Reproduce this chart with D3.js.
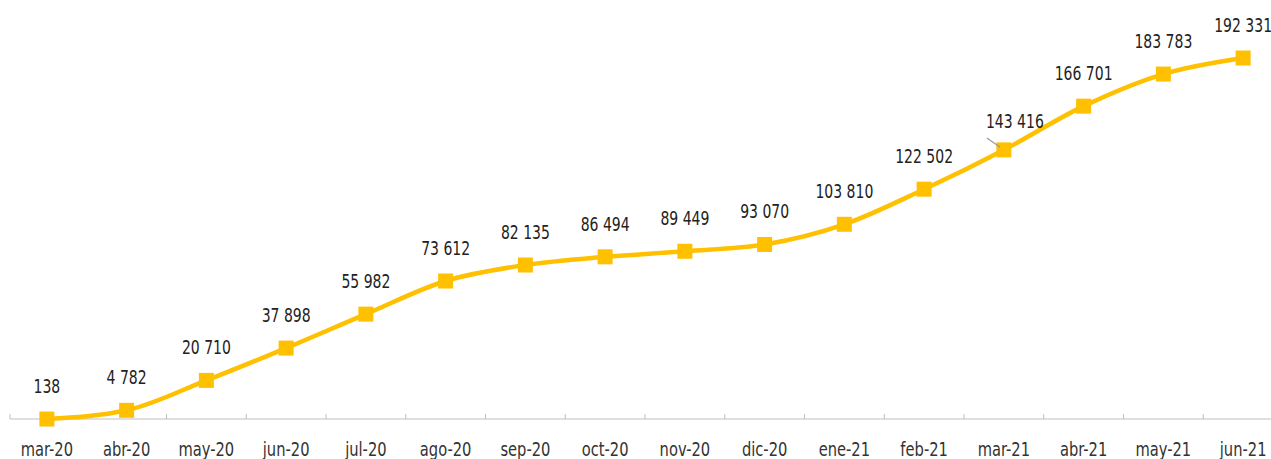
<!DOCTYPE html>
<html>
<head>
<meta charset="utf-8">
<script src="https://cdn.jsdelivr.net/npm/d3@7"></script>
<style>
  body { margin: 0; background: #fff; }
  svg text { font-family: "DejaVu Sans Condensed", "DejaVu Sans", sans-serif; font-stretch: condensed; }
</style>
</head>
<body>
<svg id="chart"></svg>
<script>
var months = ['mar-20','abr-20','may-20','jun-20','jul-20','ago-20','sep-20','oct-20','nov-20','dic-20','ene-21','feb-21','mar-21','abr-21','may-21','jun-21']
var values = [138, 4782, 20710, 37898, 55982, 73612, 82135, 86494, 89449, 93070, 103810, 122502, 143416, 166701, 183783, 192331]

var width = 1271, height = 459
var margin = {top: 58, left: 7}
var plotRight = 1283
var squeeze = 0.82 // narrow the font horizontally, the source uses a condensed face

var svg = d3.select('#chart')
  .attr('width', width)
  .attr('height', height)

var x = d3.scaleBand()
  .domain(months)
  .range([margin.left, plotRight])

var y = d3.scaleLinear()
  .domain([0, d3.max(values)])
  .range([419.3, margin.top])

var data = months.map((m, i) => ({month: m, value: values[i]}))
var cx = d => x(d.month) + x.bandwidth() / 2

// axis line + ticks between categories
var axisY = 419
svg.append('line')
  .attr('x1', 10).attr('x2', width)
  .attr('y1', axisY).attr('y2', axisY)
  .attr('stroke', '#bfbfbf').attr('stroke-width', 1)

svg.selectAll('.tick')
  .data(months.slice(1))
  .enter()
  .append('line')
    .attr('x1', d => x(d)).attr('x2', d => x(d))
    .attr('y1', axisY - 5).attr('y2', axisY)
    .attr('stroke', '#bfbfbf')
svg.append('line')
  .attr('x1', 10).attr('x2', 10).attr('y1', axisY - 5).attr('y2', axisY)
  .attr('stroke', '#bfbfbf')

svg.selectAll('.xlab')
  .data(months)
  .enter()
  .append('text')
    .attr('transform', d => 'translate(' + (x(d) + x.bandwidth() / 2) + ',456) scale(0.86,1)')
    .attr('text-anchor', 'middle')
    .attr('font-size', 19)
    .attr('fill', '#333')
    .text(d => d)

// line
var line = d3.line()
  .x(cx)
  .y(d => y(d.value))
  .curve(d3.curveMonotoneX)

svg.append('path')
  .datum(data)
  .attr('d', line)
  .attr('fill', 'none')
  .attr('stroke', '#FFC000')
  .attr('stroke-width', 4.5)

var size = 15
svg.selectAll('.marker')
  .data(data)
  .enter()
  .append('rect')
    .attr('x', d => cx(d) - size / 2)
    .attr('y', d => y(d.value) - size / 2)
    .attr('width', size)
    .attr('height', size)
    .attr('fill', '#FFC000')

// value labels (mar-21 label is pulled off with a leader line)
var fmt = v => d3.format(',')(v).replace(/,/g, ' ')
var special = 'mar-21'

svg.selectAll('.vlab')
  .data(data)
  .enter()
  .append('text')
    .attr('transform', d => {
      var lx = d.month == special ? cx(d) + 11 : cx(d)
      var ly = d.month == special ? y(d.value) - 22 : y(d.value) - 26
      return 'translate(' + lx + ',' + ly + ') scale(' + squeeze + ',1)'
    })
    .attr('text-anchor', 'middle')
    .attr('font-size', 19)
    .attr('fill', '#222')
    .text(d => fmt(d.value))

var sp = data.find(d => d.month == special)
svg.append('line')
  .attr('x1', cx(sp) - 17).attr('y1', y(sp.value) - 12)
  .attr('x2', cx(sp) - 4).attr('y2', y(sp.value) - 3)
  .attr('stroke', '#999').attr('stroke-width', 1.2)
</script>
</body>
</html>
